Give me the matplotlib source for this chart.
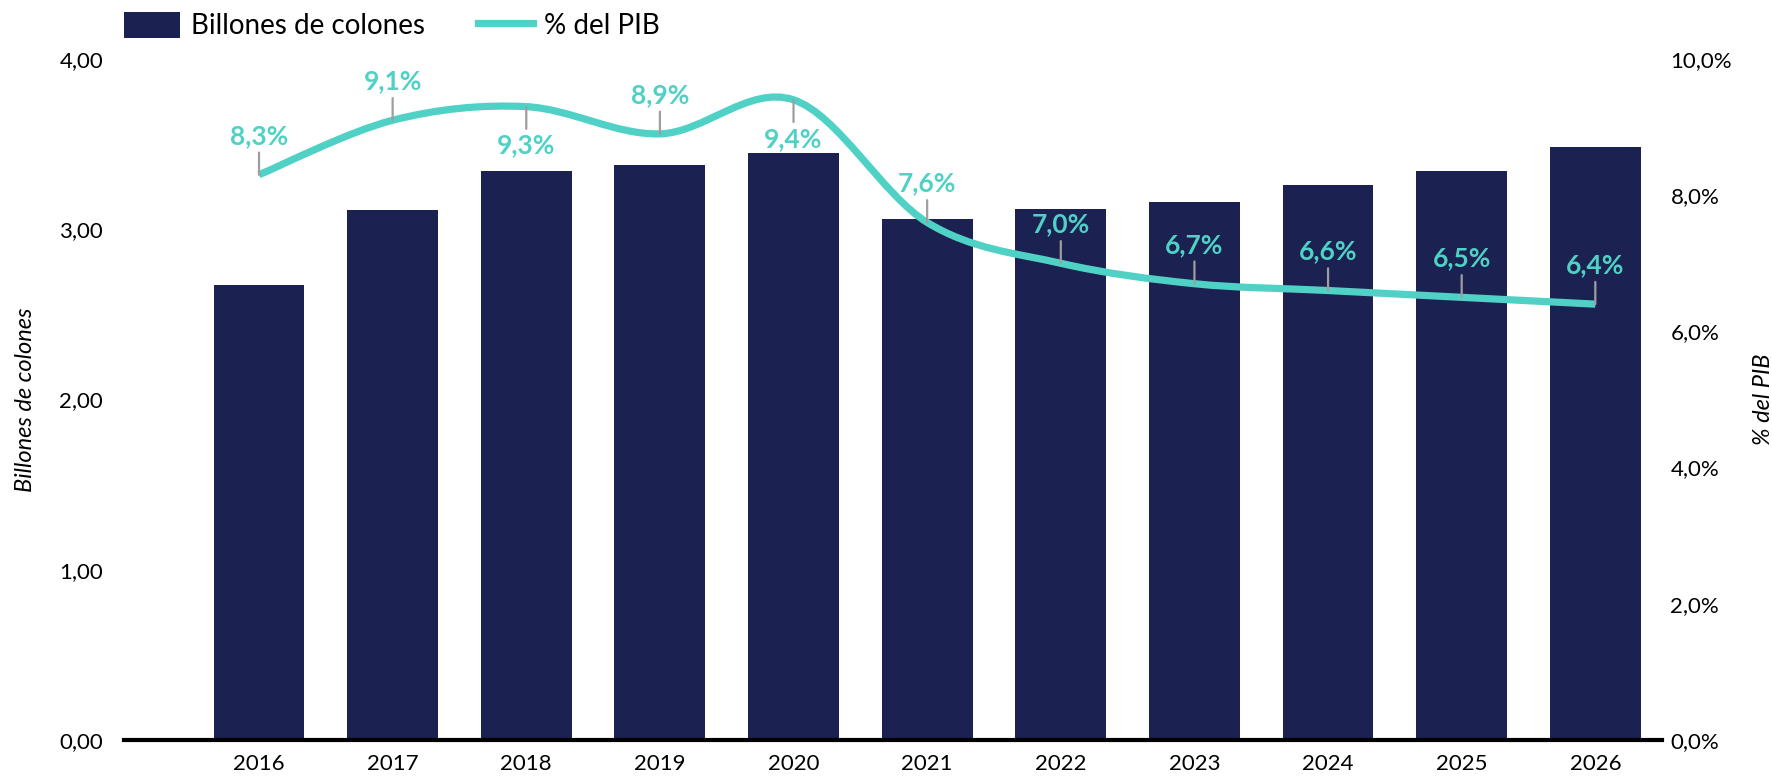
import numpy as np
import matplotlib
matplotlib.use("Agg")
import matplotlib.pyplot as plt
from matplotlib.path import Path
from matplotlib.patches import PathPatch, Patch
from matplotlib.lines import Line2D

years = ["2016", "2017", "2018", "2019", "2020", "2021", "2022", "2023", "2024", "2025", "2026"]
billones = [2.67, 3.11, 3.34, 3.38, 3.45, 3.06, 3.12, 3.16, 3.26, 3.34, 3.48]
pct_pib = [8.3, 9.1, 9.3, 8.9, 9.4, 7.6, 7.0, 6.7, 6.6, 6.5, 6.4]
label_below = [False, False, True, False, True, False, False, False, False, False, False]

navy = "#1B2150"
teal = "#4FD1C5"
grey = "#9E9E9E"

plt.rcParams["font.family"] = ["Lato", "DejaVu Sans"]

fig = plt.figure(figsize=(17.72, 7.82), dpi=100)
ax = fig.add_axes([0.070, 0.0537, 0.868, 0.8709])
ax2 = ax.twinx()

x = np.arange(len(years))
ax.bar(x, billones, width=0.68, color=navy, zorder=2)
ax.set_xlim(-1.01, 10.5)
ax.set_ylim(0, 4)
ax.set_yticks([0, 1, 2, 3, 4])
ax.set_yticklabels(["0,00", "1,00", "2,00", "3,00", "4,00"], fontsize=16)
ax.set_xticks(x)
ax.set_xticklabels(years, fontsize=16)
ax.tick_params(axis="both", length=0)
ax.tick_params(axis="y", pad=15)
ax.tick_params(axis="x", pad=10)
ax.set_ylabel("Billones de colones", fontsize=17, style="italic", labelpad=17)

for a in (ax, ax2):
    for s in ("top", "left", "right"):
        a.spines[s].set_visible(False)
ax.spines["bottom"].set_linewidth(3)
ax.spines["bottom"].set_color("black")
ax2.spines["bottom"].set_visible(False)

ax2.set_ylim(0, 10)
ax2.set_yticks([0, 2, 4, 6, 8, 10])
ax2.set_yticklabels(["0,0%", "2,0%", "4,0%", "6,0%", "8,0%", "10,0%"], fontsize=16)
ax2.tick_params(axis="y", length=0, pad=6)
ax2.set_ylabel("% del PIB", fontsize=17, style="italic", rotation=90, labelpad=15)

# smoothed line (Catmull-Rom as bezier, like Excel smoothing)
pts = np.column_stack([x, pct_pib]).astype(float)
ext = np.vstack([pts[0], pts, pts[-1]])
verts = [tuple(pts[0])]
codes = [Path.MOVETO]
for i in range(len(pts) - 1):
    p0, p1, p2, p3 = ext[i], ext[i + 1], ext[i + 2], ext[i + 3]
    c1 = p1 + (p2 - p0) / 6
    c2 = p2 - (p3 - p1) / 6
    verts += [tuple(c1), tuple(c2), tuple(p2)]
    codes += [Path.CURVE4] * 3
ax2.add_patch(PathPatch(Path(verts, codes), fill=False, edgecolor=teal, lw=5.2,
                        capstyle="butt", zorder=3))

for i, v in enumerate(pct_pib):
    sign = -1 if label_below[i] else 1
    ax2.annotate("", xy=(i, v), xytext=(0, sign * 16), textcoords="offset points",
                 arrowprops=dict(arrowstyle="-", color=grey, lw=1.6, shrinkA=0, shrinkB=0),
                 zorder=4)
    ax2.annotate(f"{v:.1f}%".replace(".", ","), xy=(i, v), xytext=(0, sign * 28),
                 textcoords="offset points", ha="center", va="center",
                 fontsize=19, color=teal, fontweight="bold", zorder=5)

handles = [Patch(facecolor=navy, edgecolor="none"), Line2D([], [], color=teal, lw=5.2)]
fig.legend(handles, ["Billones de colones", "% del PIB"], loc="upper left",
           bbox_to_anchor=(0.056, 1.017), ncol=2, frameon=False, fontsize=20,
           handlelength=2.0, handleheight=1.1, handletextpad=0.4, columnspacing=1.9)

fig.savefig("out.png", dpi=100)
